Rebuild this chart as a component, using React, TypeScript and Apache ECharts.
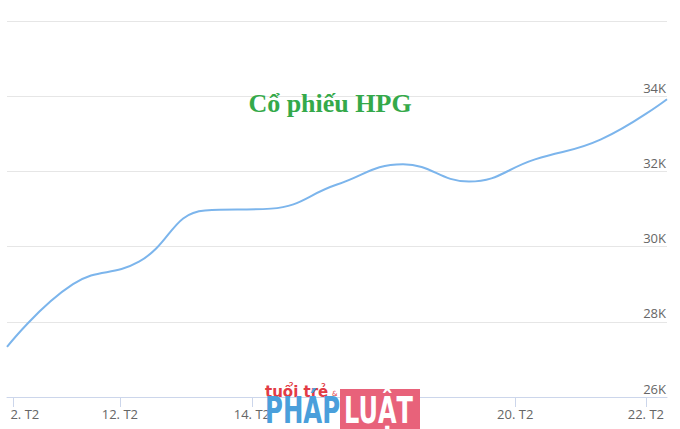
import React, { useEffect, useRef } from 'react';
import * as echarts from 'echarts';

const dayIndex = [0, 1, 2, 3, 4, 5, 6, 7, 8, 9, 10];
const prices = [27330, 29000, 29600, 30960, 31010, 31650, 32190, 31730, 32320, 32850, 33920];
const yMin = 26000;
const yMax = 36000;
const yStep = 2000;
const xTickPositions = [0.09, 1.71, 3.71, 5.68, 7.7, 9.68];
const xLabelPositions = [0.27, 1.71, 3.71, 5.68, 7.7, 9.68];
const xLabels = ['2. T2', '12. T2', '14. T2', '18. T2', '20. T2', '22. T2'];
const chartTitle = 'Cổ phiếu HPG';

export default function App() {
  const ref = useRef<HTMLDivElement>(null);
  useEffect(() => {
    if (!ref.current) return;
    const chart = echarts.init(ref.current, undefined, { renderer: 'svg' });
    const data = dayIndex.map((d, i) => [d, prices[i]]);
    const logoFont = 'bold 37px "DejaVu Sans", sans-serif';
    chart.setOption({
      animation: false,
      backgroundColor: '#ffffff',
      grid: { left: 7, right: 13, top: 21, bottom: 32, containLabel: false },
      xAxis: {
        type: 'value',
        min: 0,
        max: 10,
        splitLine: { show: false },
        axisLine: { show: true, lineStyle: { color: '#ccd6eb', width: 1 } },
        axisTick: {
          show: true,
          length: 10,
          customValues: xTickPositions,
          lineStyle: { color: '#ccd6eb' },
        },
        axisLabel: {
          customValues: xLabelPositions,
          color: '#666666',
          fontSize: 13,
          fontFamily: '"Open Sans", "DejaVu Sans", sans-serif',
          margin: 10,
          formatter: (v: number) => {
            let best = 0;
            let bd = Infinity;
            xLabelPositions.forEach((p, i) => {
              const d = Math.abs(p - v);
              if (d < bd) { bd = d; best = i; }
            });
            return xLabels[best];
          },
        },
      },
      yAxis: {
        type: 'value',
        position: 'right',
        min: yMin,
        max: yMax,
        interval: yStep,
        axisLine: { show: false },
        axisTick: { show: false },
        splitLine: { show: true, lineStyle: { color: '#e6e6e6', width: 1 } },
        axisLabel: {
          inside: true,
          margin: 1,
          verticalAlign: 'bottom',
          padding: [0, 0, 2, 0],
          color: '#666666',
          fontSize: 13,
          fontFamily: '"Open Sans", "DejaVu Sans", sans-serif',
          formatter: (v: number) => (v === yMax ? '' : v / 1000 + 'K'),
        },
      },
      series: [
        {
          type: 'line',
          data,
          smooth: 0.45,
          showSymbol: false,
          lineStyle: { color: '#7cb5ec', width: 2 },
          itemStyle: { color: '#7cb5ec' },
        },
      ],
      graphic: [
        {
          type: 'text',
          x: 330,
          y: 103,
          z: 50,
          style: {
            text: chartTitle,
            fill: '#34a94a',
            font: 'bold 26px "Liberation Serif", "DejaVu Serif", serif',
            align: 'center',
            verticalAlign: 'middle',
          },
        },
        {
          type: 'rect',
          z: 100,
          shape: { x: 340, y: 389, width: 80, height: 40 },
          style: { fill: '#e8627a' },
        },
        {
          type: 'text',
          z: 101,
          x: 265,
          y: 392,
          style: {
            text: 'tuổi trẻ',
            fill: '#e23b45',
            font: 'bold 15px "DejaVu Sans", sans-serif',
            align: 'left',
            verticalAlign: 'middle',
          },
        },
        {
          type: 'text',
          z: 101,
          x: 332,
          y: 394,
          style: {
            text: '&',
            fill: '#e23b45',
            font: '7px "DejaVu Sans", sans-serif',
            align: 'left',
            verticalAlign: 'middle',
          },
        },
        {
          type: 'text',
          z: 101,
          x: 265,
          y: 410,
          scaleX: 0.66,
          style: {
            text: 'PHÁP',
            fill: '#4a9fdb',
            font: logoFont,
            align: 'left',
            verticalAlign: 'middle',
          },
        },
        {
          type: 'text',
          z: 101,
          x: 344,
          y: 410,
          scaleX: 0.65,
          style: {
            text: 'LUẬT',
            fill: '#ffffff',
            font: logoFont,
            align: 'left',
            verticalAlign: 'middle',
          },
        },
      ],
    });
    return () => chart.dispose();
  }, []);
  return (
    <div
      ref={ref}
      style={{ position: 'absolute', left: 0, top: 0, width: 680, height: 429 }}
    />
  );
}
